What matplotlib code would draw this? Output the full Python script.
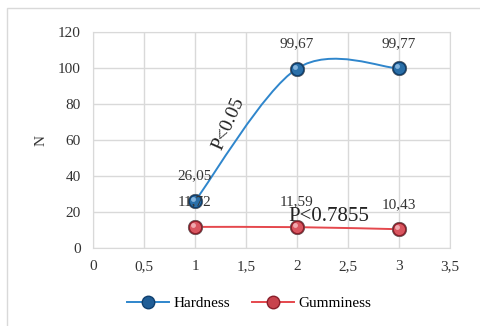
import matplotlib.pyplot as plt
import numpy as np
from matplotlib.path import Path
from matplotlib.patches import PathPatch, Rectangle
from matplotlib import transforms

plt.rcParams["font.family"] = ["Liberation Serif", "DejaVu Serif"]

x_vals = [1, 2, 3]
hardness = [26.05, 99.67, 99.77]
gumminess = [11.72, 11.59, 10.43]
hardness_labels = ["26,05", "99,67", "99,77"]
gumminess_labels = ["11,72", "11,59", "10,43"]
x_ticks = [0, 0.5, 1, 1.5, 2, 2.5, 3, 3.5]
x_tick_labels = ["0", "0,5", "1", "1,5", "2", "2,5", "3", "3,5"]
y_ticks = [0, 20, 40, 60, 80, 100, 120]

BLUE = "#2f86cc"
RED = "#e5484d"
GRID = "#d9d9d9"


def smooth_path(xs, ys):
	"""Catmull-Rom style bezier through the points (like Excel smoothed line)."""
	pts = np.column_stack([xs, ys]).astype(float)
	n = len(pts)
	verts = [pts[0]]
	codes = [Path.MOVETO]
	for i in range(n - 1):
		p_prev = pts[i - 1] if i > 0 else pts[i]
		p_next2 = pts[i + 2] if i + 2 < n else pts[i + 1]
		c1 = pts[i] + (pts[i + 1] - p_prev) / 6.0
		c2 = pts[i + 1] - (p_next2 - pts[i]) / 6.0
		verts += [c1, c2, pts[i + 1]]
		codes += [Path.CURVE4] * 3
	return Path(verts, codes)


def sphere_markers(ax, xs, ys, dark, mid, light):
	ax.plot(xs, ys, "o", ms=10.5, mfc=dark, mec="#555555", mew=0.4, zorder=4)
	ax.plot(xs, ys, "o", ms=8, mfc=mid, mec="none", zorder=5)
	hl = transforms.offset_copy(ax.transData, fig=ax.figure, x=-1.2, y=1.5, units="points")
	ax.plot(xs, ys, "o", ms=3.5, mfc=light, mec="none", alpha=0.8, zorder=6, transform=hl)


fig = plt.figure(figsize=(4.81, 3.26), dpi=100)
fig.patches.append(Rectangle((7 / 481, -0.1), 1.2, (326 - 8) / 326 + 0.1,
	transform=fig.transFigure, fill=False, edgecolor=GRID, linewidth=1.0))

ax = fig.add_axes([93 / 481, 78 / 326, 357 / 481, 216 / 326])

ax.add_patch(PathPatch(smooth_path(x_vals, hardness), fill=False, edgecolor=BLUE, linewidth=1.4, zorder=3))
ax.add_patch(PathPatch(smooth_path(x_vals, gumminess), fill=False, edgecolor=RED, linewidth=1.4, zorder=3))

sphere_markers(ax, x_vals, gumminess, "#8a1f2a", "#d9555f", "#f7c0c4")
sphere_markers(ax, x_vals, hardness, "#0f3f6e", "#2a6fa8", "#9cc7ec")

for x, y, lab in zip(x_vals, hardness, hardness_labels):
	ax.annotate(lab, (x, y), xytext=(0, 18), textcoords="offset points",
		ha="center", va="center", fontsize=11, color="#333333", zorder=7)
for x, y, lab in zip(x_vals, gumminess, gumminess_labels):
	ax.annotate(lab, (x, y), xytext=(0, 18), textcoords="offset points",
		ha="center", va="center", fontsize=11, color="#333333", zorder=7)

ax.text(1.33, 69, "P<0.05", rotation=66, ha="center", va="center", fontsize=14, color="#222222", zorder=7)
ax.text(2.31, 17.5, "P<0.7855", ha="center", va="center", fontsize=15, color="#222222", zorder=7)

ax.set_xlim(0, 3.5)
ax.set_ylim(0, 120)
ax.set_xticks(x_ticks)
ax.set_xticklabels(x_tick_labels)
ax.set_yticks(y_ticks)
ax.tick_params(length=0, labelsize=11, labelcolor="#333333", pad=9)
ax.grid(True, color=GRID, linewidth=1.0)
ax.set_axisbelow(True)
for s in ax.spines.values():
	s.set_color(GRID)
ax.set_ylabel("N", fontsize=11, color="#333333", labelpad=7)

# legend
h1, = ax.plot([], [], color=BLUE, lw=1.4, marker="o", ms=9, mfc="#1f5d96", mec="#0f3f6e", label="Hardness")
h2, = ax.plot([], [], color=RED, lw=1.4, marker="o", ms=9, mfc="#c8434d", mec="#8a1f2a", label="Gumminess")
fig.legend(handles=[h1, h2], loc="center", bbox_to_anchor=(0.518, (326 - 303) / 326), ncol=2,
	frameon=False, fontsize=11, handlelength=2.75, columnspacing=1.45, handletextpad=0.3)

fig.savefig("out.png", dpi=100)
